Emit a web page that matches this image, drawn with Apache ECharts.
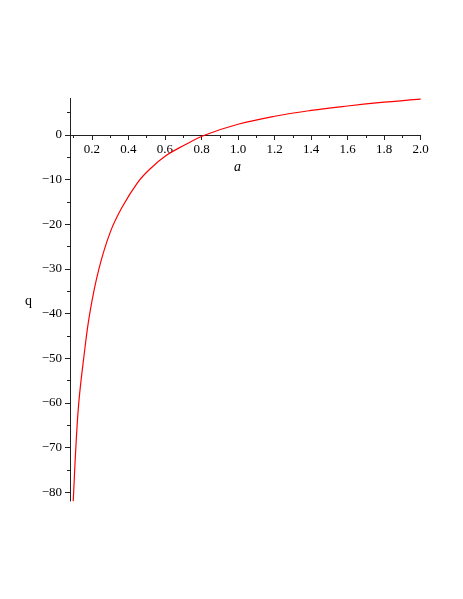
<!DOCTYPE html>
<html>
<head>
<meta charset="utf-8">
<script src="https://cdn.jsdelivr.net/npm/echarts@6/dist/echarts.min.js"></script>
<style>
  html, body { margin: 0; padding: 0; background: #fff; }
  #main { width: 463px; height: 599px; }
</style>
</head>
<body>
<div id="main"></div>
<script>
// values
var aValues = [0.0977, 0.100, 0.112, 0.128, 0.155, 0.188, 0.237, 0.30, 0.365, 0.451, 0.518, 0.61, 0.70, 0.82, 1.0, 1.2, 1.4, 1.6, 1.8, 2.0];
var qValues = [-82, -80, -70, -60, -50, -40, -30.2, -21.8, -16.2, -10.6, -7.6, -4.5, -2.4, 0, 2.4, 4.2, 5.5, 6.5, 7.35, 8.05];

var xMajorTicks = [0.2, 0.4, 0.6, 0.8, 1.0, 1.2, 1.4, 1.6, 1.8, 2.0];
var xMinorTicks = [0.1, 0.3, 0.5, 0.7, 0.9, 1.1, 1.3, 1.5, 1.7, 1.9];
var yMajorTicks = [-80, -70, -60, -50, -40, -30, -20, -10, 0];
var yMinorTicks = [-75, -65, -55, -45, -35, -25, -15, -5, 5];

var seriesData = aValues.map(function (a, i) { return [a, qValues[i]]; });

var font = 'Liberation Serif, Times New Roman, serif';
var axisColor = '#222';
var xMin = 0.08, xMax = 2.0, yMin = -82, yMax = 8.2;
var gridBox = { left: 70, right: 42.3, top: 98.4, bottom: 97.9 };
// the x axis is drawn through q = 0: shift it up from the grid bottom
var plotH = 599 - gridBox.top - gridBox.bottom;
var xAxisOffset = -plotH * (0 - yMin) / (yMax - yMin);

// second grid sits on top of the first, only to carry the short minor ticks
function minorAxis(min, max, ticks, extra) {
    return Object.assign({
        gridIndex: 1, type: 'value', min: min, max: max,
        axisLine: { show: false, onZero: false },
        axisTick: { show: true, length: 3, customValues: ticks, lineStyle: { color: axisColor } },
        axisLabel: { show: false },
        splitLine: { show: false }
    }, extra);
}

var chart = echarts.init(document.getElementById('main'), null, { renderer: 'canvas' });
var option = {
    animation: false,
    backgroundColor: '#fff',
    grid: [Object.assign({}, gridBox), Object.assign({}, gridBox)],
    xAxis: [{
        gridIndex: 0, type: 'value', min: xMin, max: xMax,
        position: 'bottom', offset: xAxisOffset,
        axisLine: { show: true, onZero: false, lineStyle: { color: axisColor, width: 1 } },
        axisTick: { show: true, length: 5, customValues: xMajorTicks, lineStyle: { color: axisColor } },
        axisLabel: {
            customValues: xMajorTicks, margin: 8,
            color: '#000', fontFamily: font, fontSize: 13,
            formatter: function (v) { return v.toFixed(1); }
        },
        splitLine: { show: false }
    }, minorAxis(xMin, xMax, xMinorTicks, { position: 'bottom', offset: xAxisOffset })],
    yAxis: [{
        gridIndex: 0, type: 'value', min: yMin, max: yMax,
        position: 'left',
        axisLine: { show: true, onZero: false, lineStyle: { color: axisColor, width: 1 } },
        axisTick: { show: true, length: 5, customValues: yMajorTicks, lineStyle: { color: axisColor } },
        axisLabel: {
            customValues: yMajorTicks, margin: 8,
            color: '#000', fontFamily: font, fontSize: 13,
            formatter: function (v) { return v < 0 ? '\u2212' + Math.abs(v) : String(v); }
        },
        splitLine: { show: false }
    }, minorAxis(yMin, yMax, yMinorTicks, { position: 'left' })],
    series: [{
        type: 'line',
        xAxisIndex: 0, yAxisIndex: 0,
        data: seriesData,
        showSymbol: false,
        smooth: 0.4,
        lineStyle: { color: '#ff0000', width: 1.2 },
        clip: true
    }],
    graphic: [
        { type: 'text', left: 234, top: 160, style: { text: 'a', fontFamily: font, fontStyle: 'italic', fontSize: 14, fill: '#000' } },
        { type: 'text', left: 25, top: 294, style: { text: 'q', fontFamily: font, fontSize: 14, fill: '#000' } }
    ]
};
chart.setOption(option);
</script>
</body>
</html>
